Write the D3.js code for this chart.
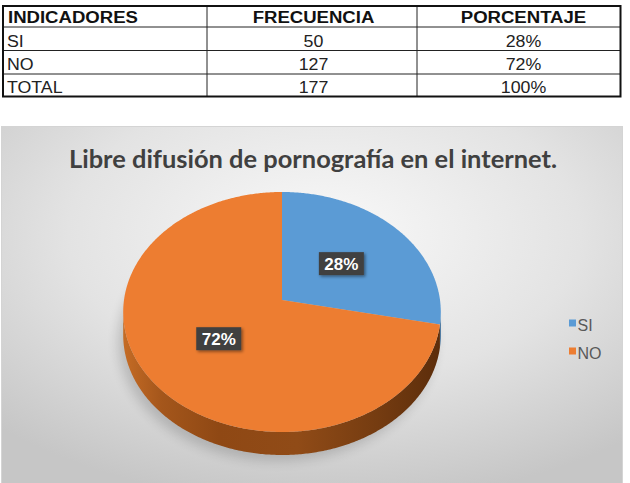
<!DOCTYPE html>
<html>
<head>
<meta charset="utf-8">
<script src="https://cdn.jsdelivr.net/npm/d3@7"></script>
<style>
  html, body { margin: 0; padding: 0; background: #ffffff; }
  svg { display: block; }
</style>
</head>
<body>
<script>
// ---------- data ----------
const headers = ["INDICADORES", "FRECUENCIA", "PORCENTAJE"];
const categories = ["SI", "NO"];
const frequencies = [50, 127];
const percentLabels = ["28%", "72%"];
const totalLabel = "TOTAL";
const totalFrequency = 177;
const totalPercent = "100%";
const chartTitle = "Libre difusión de pornografía en el internet.";
const colors = ["#5b9bd5", "#ed7d31"];
const sideColors = ["#2f6494", null];

// ---------- setup ----------
const W = 630, H = 483;
const svg = d3.select("body").append("svg").attr("width", W).attr("height", H);
const defs = svg.append("defs");

// ---------- table ----------
const tbl = { x0: 3, x1: 620.5, cols: [3, 207, 417, 620.5], rows: [6, 27, 50.5, 74, 96.5] };
const colText = [{ x: 7, anchor: "start" }, { x: 313.5, anchor: "middle" }, { x: 523.5, anchor: "middle" }];
const baselines = [22.5, 46.5, 70, 92.5];
const tableRows = categories.map((c, i) => [c, String(frequencies[i]), percentLabels[i]])
  .concat([[totalLabel, String(totalFrequency), totalPercent]]);

const tg = svg.append("g");
tbl.rows.slice(1, -1).forEach(y => tg.append("line").attr("x1", tbl.x0).attr("x2", tbl.x1)
  .attr("y1", y).attr("y2", y).attr("stroke", "#222").attr("stroke-width", 1));
tbl.cols.slice(1, -1).forEach(x => tg.append("line").attr("x1", x).attr("x2", x)
  .attr("y1", tbl.rows[0]).attr("y2", tbl.rows[tbl.rows.length - 1]).attr("stroke", "#222").attr("stroke-width", 1));
tg.append("rect").attr("x", tbl.x0).attr("y", tbl.rows[0])
  .attr("width", tbl.x1 - tbl.x0).attr("height", tbl.rows[tbl.rows.length - 1] - tbl.rows[0])
  .attr("fill", "none").attr("stroke", "#111").attr("stroke-width", 2);

function stretchText(sel, f) {
  sel.each(function () {
    const len = this.getComputedTextLength();
    d3.select(this).attr("textLength", len * f).attr("lengthAdjust", "spacingAndGlyphs");
  });
}
headers.forEach((h, j) => {
  tg.append("text").attr("x", colText[j].x + (j === 0 ? 1 : 0)).attr("y", baselines[0])
    .attr("text-anchor", colText[j].anchor)
    .style("font-family", "'Liberation Sans', Arial, sans-serif").style("font-weight", "bold")
    .style("font-size", "16px").attr("fill", "#111").text(h).call(stretchText, 1.16);
});
tableRows.forEach((r, i) => {
  r.forEach((v, j) => {
    tg.append("text").attr("x", colText[j].x).attr("y", baselines[i + 1])
      .attr("text-anchor", colText[j].anchor)
      .style("font-family", "'Liberation Sans', Arial, sans-serif")
      .style("font-size", "16px").attr("fill", "#222").text(v).call(stretchText, 1.11);
  });
});

// ---------- chart area ----------
const bg = defs.append("radialGradient").attr("id", "bgGrad")
  .attr("cx", 0.52).attr("cy", 0.3).attr("r", 0.75);
bg.append("stop").attr("offset", "0%").attr("stop-color", "#f9f9f9");
bg.append("stop").attr("offset", "55%").attr("stop-color", "#e3e3e3");
bg.append("stop").attr("offset", "100%").attr("stop-color", "#c6c6c6");
svg.append("rect").attr("x", 1.5).attr("y", 126.5).attr("width", 621).attr("height", 360)
  .attr("fill", "url(#bgGrad)").attr("stroke", "#d4d4d4");

svg.append("text").attr("x", 313).attr("y", 168).attr("text-anchor", "middle")
  .style("font-family", "Lato, 'Open Sans', sans-serif").style("font-weight", "bold")
  .style("font-size", "24px").attr("fill", "#404040")
  .attr("textLength", 488).attr("lengthAdjust", "spacingAndGlyphs").text(chartTitle);

// ---------- 3D pie ----------
const P = { cx: 282, cy: 300, A: 158, B: 118.8, p: 0.1, depth: 23 };
function proj(theta, r, dz) {
  const X = r * Math.sin(theta), Z = r * Math.cos(theta);
  const w = 1 + P.p * Z;
  return [P.cx + P.A * X / w, P.cy - P.B * Z / w + (dz || 0)];
}
function rim(a0, a1, dz) {
  const n = Math.max(2, Math.ceil((a1 - a0) / 0.01));
  return d3.range(n + 1).map(i => proj(a0 + (a1 - a0) * i / n, 1, dz));
}
const line = d3.line();
const arcs = d3.pie().sort(null).startAngle(0).endAngle(2 * Math.PI)(frequencies);

// shadow
const sh = defs.append("filter").attr("id", "pieShadow").attr("x", "-20%").attr("y", "-20%").attr("width", "140%").attr("height", "140%");
sh.append("feGaussianBlur").attr("stdDeviation", 6);
svg.append("path")
  .attr("d", line(rim(0, 2 * Math.PI, P.depth + 4)) + "Z")
  .attr("transform", "translate(-5,2)")
  .attr("fill", "#000").attr("opacity", 0.16).attr("filter", "url(#pieShadow)");

// side gradient
const sg = defs.append("linearGradient").attr("id", "sideOrange").attr("gradientUnits", "userSpaceOnUse")
  .attr("x1", P.cx - P.A).attr("x2", P.cx + P.A).attr("y1", 0).attr("y2", 0);
[["0%", "#c46b25"], ["12%", "#a4561b"], ["30%", "#8f4814"], ["55%", "#904b17"], ["80%", "#753c11"], ["100%", "#5c2d0b"]]
  .forEach(s => sg.append("stop").attr("offset", s[0]).attr("stop-color", s[1]));

const visA0 = Math.acos(-P.p), visA1 = 2 * Math.PI - Math.acos(-P.p);
arcs.forEach((a, i) => {
  const s = Math.max(a.startAngle, visA0), e = Math.min(a.endAngle, visA1);
  if (e <= s) return;
  const top = rim(s, e, 0), bot = rim(s, e, P.depth).reverse();
  svg.append("path").attr("d", line(top.concat(bot)) + "Z")
    .attr("fill", i === 1 ? "url(#sideOrange)" : sideColors[i]);
});

// top faces
arcs.forEach((a, i) => {
  const pts = [[P.cx, P.cy]].concat(rim(a.startAngle, a.endAngle, 0));
  svg.append("path").attr("d", line(pts) + "Z").attr("fill", colors[i]);
});

// data labels
const lf = defs.append("filter").attr("id", "lblShadow").attr("x", "-30%").attr("y", "-30%").attr("width", "160%").attr("height", "160%");
lf.append("feDropShadow").attr("dx", 1.5).attr("dy", 1.5).attr("stdDeviation", 1.5).attr("flood-color", "#000").attr("flood-opacity", 0.45);
arcs.forEach((a, i) => {
  const mid = (a.startAngle + a.endAngle) / 2;
  const [x, y] = proj(mid, 0.5, 0);
  const g = svg.append("g").attr("transform", `translate(${x},${y})`);
  const bw = 45, bh = 23;
  g.append("rect").attr("x", -bw / 2).attr("y", -bh / 2).attr("width", bw).attr("height", bh)
    .attr("fill", "#404040").attr("filter", "url(#lblShadow)");
  g.append("text").attr("text-anchor", "middle").attr("y", 6.5)
    .style("font-family", "'Liberation Sans', Arial, sans-serif").style("font-weight", "bold")
    .style("font-size", "17px").attr("fill", "#ffffff").text(percentLabels[i]);
});

// legend
const lg = svg.append("g").attr("transform", "translate(569,319.5)");
categories.forEach((c, i) => {
  const row = lg.append("g").attr("transform", `translate(0,${i * 28})`);
  row.append("rect").attr("width", 7).attr("height", 7).attr("fill", colors[i]);
  row.append("text").attr("x", 8.5).attr("y", 11.5)
    .style("font-family", "'Liberation Sans', Arial, sans-serif")
    .style("font-size", "16px").attr("fill", "#595959").text(c);
});
</script>
</body>
</html>
